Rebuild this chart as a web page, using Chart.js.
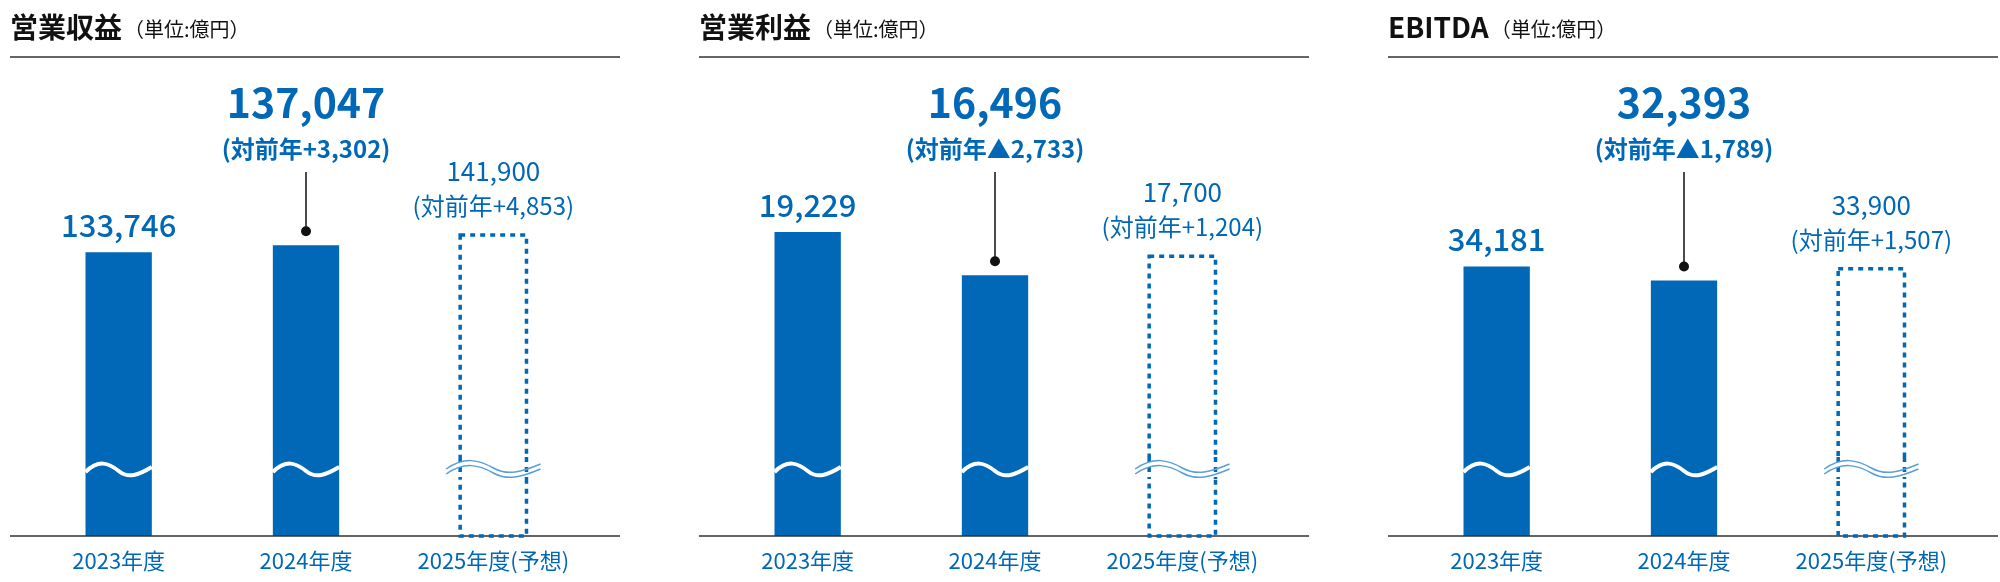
<!DOCTYPE html><html><head><meta charset="utf-8">
<script src="https://cdn.jsdelivr.net/npm/chart.js@4"></script>
<style>body{margin:0;background:#fff;width:2000px;height:582px;overflow:hidden;position:relative}
.p{position:absolute;top:0;width:610px;height:582px}
canvas{width:610px;height:582px;display:block}</style></head><body>
<div class="p" style="left:10px"><canvas id="c0" width="610" height="582"></canvas></div>
<div class="p" style="left:699px"><canvas id="c1" width="610" height="582"></canvas></div>
<div class="p" style="left:1388px"><canvas id="c2" width="610" height="582"></canvas></div>
<script>
const categories=['2023年度','2024年度','2025年度(予想)'];
const titles=['営業収益','営業利益','EBITDA'];
const revenue=[133746,137047,141900];
const opIncome=[19229,16496,17700];
const ebitda=[34181,32393,33900];
const changes24=['(対前年+3,302)','(対前年▲2,733)','(対前年▲1,789)'];
const changes25=['(対前年+4,853)','(対前年+1,204)','(対前年+1,507)'];
const axisMax=[225800,30300,60750];
const series=[revenue,opIncome,ebitda];
const BLUE='#0068b7', F='"Noto Sans CJK JP","Noto Sans",sans-serif';
const fmt=v=>v.toLocaleString('en-US');
function wave(ctx,x1,x2,y,col,w){ctx.beginPath();ctx.moveTo(x1,y+3);
 const m=(x1+x2)/2;ctx.bezierCurveTo(x1+(m-x1)*0.4,y-10,m-(m-x1)*0.3,y-6,m,y+2);
 ctx.bezierCurveTo(m+(x2-m)*0.3,y+10,x2-(x2-m)*0.4,y+6,x2,y-2);ctx.strokeStyle=col;ctx.lineWidth=w;ctx.stroke();}
series.forEach((data,i)=>{
 const plug={id:'d'+i,afterDatasetsDraw(ch){const c=ch.ctx,a=ch.chartArea,m=ch.getDatasetMeta(0).data;
  c.save();
  c.strokeStyle='#333';c.lineWidth=1.6;
  c.beginPath();c.moveTo(0,a.top);c.lineTo(610,a.top);c.moveTo(0,a.bottom);c.lineTo(610,a.bottom);c.stroke();
  c.textBaseline='alphabetic';c.textAlign='left';c.fillStyle='#111';
  c.font='bold 28px '+F;c.fillText(titles[i],0,38);const tw=c.measureText(titles[i]).width;
  c.font='20px '+F;c.fillText('（単位:億円）',tw+2,37);
  const b=m[2],hw=b.width/2;c.strokeStyle=BLUE;c.lineWidth=3.5;c.setLineDash([5,5]);
  c.strokeRect(b.x-hw,b.y,b.width,a.bottom-b.y);c.setLineDash([]);
  const wy=469;
  [0,1].forEach(k=>wave(c,m[k].x-m[k].width/2,m[k].x+m[k].width/2,wy,'#fff',4));
  c.fillStyle='#fff';c.fillRect(b.x-hw-10,wy-12,b.width+20,22);
  c.strokeStyle=BLUE;c.lineWidth=3.5;c.setLineDash([5,5]);c.beginPath();
  c.moveTo(b.x-hw,wy-12);c.lineTo(b.x-hw,wy+10);c.moveTo(b.x+hw,wy-12);c.lineTo(b.x+hw,wy+10);c.stroke();c.setLineDash([]);
  wave(c,b.x-hw-14,b.x+hw+14,wy-3,'#5aa0d8',1.5);wave(c,b.x-hw-14,b.x+hw+14,wy+2,'#5aa0d8',1.5);
  c.textAlign='center';c.textBaseline='middle';c.fillStyle=BLUE;
  c.font='22px '+F;categories.forEach((t,k)=>c.fillText(t,m[k].x,561));
  c.font='500 31px '+F;c.fillText(fmt(data[0]),m[0].x,m[0].y-27);
  c.font='bold 41px '+F;c.fillText(fmt(data[1]),m[1].x,102);
  c.font='bold 24px '+F;c.fillText(changes24[i],m[1].x,149);
  c.font='26px '+F;c.fillText(fmt(data[2]),b.x,b.y-64);
  c.font='24px '+F;c.fillText(changes25[i],b.x,b.y-29);
  c.strokeStyle='#111';c.lineWidth=1.5;c.beginPath();c.moveTo(m[1].x,172);c.lineTo(m[1].x,m[1].y-14);c.stroke();
  c.fillStyle='#111';c.beginPath();c.arc(m[1].x,m[1].y-14,5,0,7);c.fill();
  c.restore();}};
 new Chart(document.getElementById('c'+i),{type:'bar',
  data:{labels:categories,datasets:[{data:data,backgroundColor:[BLUE,BLUE,'rgba(0,0,0,0)'],barPercentage:0.354,categoryPercentage:1}]},
  options:{responsive:false,maintainAspectRatio:false,animation:false,devicePixelRatio:1,
   layout:{padding:{left:15,right:33,top:57,bottom:46}},
   plugins:{legend:{display:false},tooltip:{enabled:false}},
   scales:{x:{display:false},y:{display:false,min:0,max:axisMax[i]}}},plugins:[plug]});
});
</script>
</body></html>
